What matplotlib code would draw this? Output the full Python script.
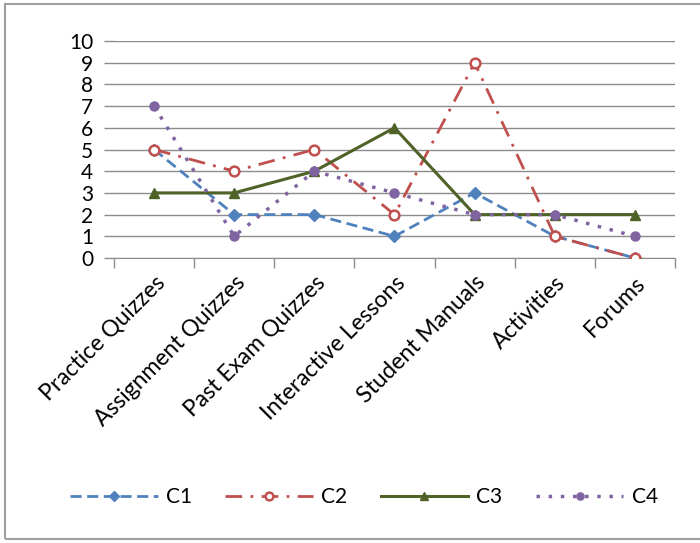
import matplotlib.pyplot as plt
from matplotlib.patches import Rectangle

categories = ['Practice Quizzes', 'Assignment Quizzes', 'Past Exam Quizzes',
              'Interactive Lessons', 'Student Manuals', 'Activities', 'Forums']
c1 = [5, 2, 2, 1, 3, 1, 0]
c2 = [5, 4, 5, 2, 9, 1, 0]
c3 = [3, 3, 4, 6, 2, 2, 2]
c4 = [7, 1, 4, 3, 2, 2, 1]
y_ticks = list(range(0, 11))

plt.rcParams['font.family'] = ['Lato', 'DejaVu Sans']

fig = plt.figure(figsize=(7, 5.43), dpi=100)
ax = fig.add_axes([114 / 700, 1 - 258 / 543, 561 / 700, 217 / 543])

x = list(range(len(categories)))
ax.plot(x, c1, color='#4F81BD', lw=2, ls=(0, (4, 2)), marker='D', ms=6,
        label='C1', zorder=3)
ax.plot(x, c2, color='#C0504D', lw=2, ls=(0, (6, 3, 1, 3)), marker='o', ms=7,
        mfc='white', mec='#C0504D', mew=1.8, label='C2', zorder=3)
ax.plot(x, c3, color='#4F6228', lw=2.2, ls='-', marker='^', ms=7,
        label='C3', zorder=3)
ax.plot(x, c4, color='#8064A2', lw=2.5, ls=(0, (1, 2.5)), marker='o', ms=6.5,
        label='C4', zorder=3)

ax.set_xlim(-0.5, len(categories) - 0.5)
ax.set_ylim(0, 10)
ax.set_yticks(y_ticks)
ax.set_yticklabels([str(v) for v in y_ticks], fontsize=15)
ax.yaxis.grid(True, color='#8c8c8c', lw=1)
ax.set_axisbelow(True)

ax.set_xticks([i + 0.5 for i in range(-1, len(categories))], minor=False)
ax.set_xticklabels([])
ax.set_xticks(x, minor=True)
ax.set_xticklabels(categories, minor=True, rotation=45, ha='right',
                   rotation_mode='anchor', fontsize=16.5)
ax.tick_params(axis='x', which='minor', length=0, pad=10)
ax.tick_params(axis='x', which='major', length=7, color='#8c8c8c', width=1)
ax.tick_params(axis='y', length=7, color='#8c8c8c', width=1, pad=8)

for s in ['top', 'right', 'left']:
    ax.spines[s].set_visible(False)
ax.spines['bottom'].set_color('#8c8c8c')

leg = fig.legend(loc='center', bbox_to_anchor=(0.52, 1 - 497 / 543), ncol=4,
                 frameon=False, fontsize=15, handlelength=4.2,
                 columnspacing=1.6, handletextpad=0.4, markerscale=0.8)

fig.patches.append(Rectangle((5 / 700, 1 - 539 / 543), 1.0, 535 / 543,
                             transform=fig.transFigure, fill=False,
                             edgecolor='#a0a0a0', lw=1.5))

fig.savefig('out.png', dpi=100)
